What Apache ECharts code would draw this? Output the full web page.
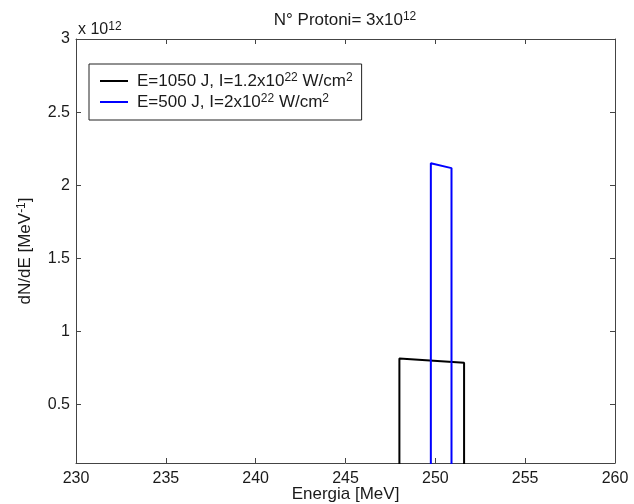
<!DOCTYPE html>
<html>
<head>
<meta charset="utf-8">
<script src="https://cdn.jsdelivr.net/npm/echarts@6/dist/echarts.min.js"></script>
<style>
  html, body { margin: 0; padding: 0; background: #fff; }
  #chart { width: 634px; height: 504px; }
</style>
</head>
<body>
<div id="chart"></div>
<script>
// Proton spectra (dN/dE in units of 1e12 per MeV) vs energy in MeV
const energyHigh = [248.0, 248.0, 251.6, 251.6];
const countsHigh = [0, 0.814, 0.785, 0];
const energyLow = [249.75, 249.75, 250.9, 250.9];
const countsLow = [0, 2.15, 2.117, 0];

const xTicks = [230, 235, 240, 245, 250, 255, 260];
const yTicks = [0.5, 1, 1.5, 2, 2.5, 3];

const seriesNames = ['E=1050 J, I=1.2x10^22 W/cm^2', 'E=500 J, I=2x10^22 W/cm^2'];
const legendRich = {
  'E=1050 J, I=1.2x10^22 W/cm^2': 'E=1050 J, I=1.2x10{sup|22} W/cm{sup|2}',
  'E=500 J, I=2x10^22 W/cm^2': 'E=500 J, I=2x10{sup|22} W/cm{sup|2}'
};

const font = 'Liberation Sans, Arial, Helvetica, sans-serif';
const fs = 16;
const fsText = 17;
const textColor = '#1a1a1a';
const frameColor = '#444';

const pairs = (xs, ys) => xs.map((x, i) => [x, ys[i]]);

const chart = echarts.init(document.getElementById('chart'), null, { renderer: 'canvas' });

const supStyle = { fontSize: 12, verticalAlign: 'top', lineHeight: 18, fontFamily: font, color: textColor };

const xAxisBase = {
  type: 'value', min: 230, max: 260, interval: 5,
  axisLine: { show: true, lineStyle: { color: frameColor, width: 1 } },
  axisTick: { show: true, inside: true, length: 5, lineStyle: { color: frameColor } },
  splitLine: { show: false }
};
const yAxisBase = {
  type: 'value', min: 0.1, max: 3,
  axisLine: { show: true, lineStyle: { color: frameColor, width: 1 } },
  axisTick: { show: true, inside: true, length: 5, customValues: yTicks, lineStyle: { color: frameColor } },
  splitLine: { show: false }
};

chart.setOption({
  animation: false,
  backgroundColor: '#fff',
  title: {
    text: 'N° Protoni= 3x10{sup|12}',
    left: 345, top: 11, padding: 0, textAlign: 'center',
    textStyle: {
      fontFamily: font, fontSize: fsText, fontWeight: 'normal', color: textColor, lineHeight: 18,
      rich: { sup: supStyle }
    }
  },
  grid: { left: 76, right: 19, top: 39, bottom: 41, containLabel: false, outerBoundsMode: 'none' },
  legend: {
    data: seriesNames,
    orient: 'vertical',
    left: 89, top: 64,
    padding: [8, 9, 9, 11],
    itemGap: 3,
    icon: 'rect',
    itemWidth: 28, itemHeight: 2,
    borderColor: '#222', borderWidth: 1,
    backgroundColor: '#fff',
    formatter: name => legendRich[name],
    textStyle: {
      fontFamily: font, fontSize: fsText, color: textColor, lineHeight: 18,
      padding: [0, 0, 0, 4],
      rich: { sup: supStyle }
    }
  },
  xAxis: [
    Object.assign({}, xAxisBase, {
      position: 'bottom',
      axisLabel: { show: true, color: textColor, fontFamily: font, fontSize: fs, margin: 8 },
      name: 'Energia [MeV]', nameLocation: 'middle', nameGap: 23, nameMoveOverlap: false,
      nameTextStyle: { fontFamily: font, fontSize: fsText, color: textColor }
    }),
    Object.assign({}, xAxisBase, { position: 'top', axisLabel: { show: false } })
  ],
  yAxis: [
    Object.assign({}, yAxisBase, {
      position: 'left',
      axisLabel: {
        show: true, customValues: yTicks, color: textColor, fontFamily: font, fontSize: fs, margin: 6,
        formatter: v => String(+v.toFixed(2))
      },
      name: 'dN/dE [MeV{sup|-1}]', nameLocation: 'middle', nameGap: 42, nameMoveOverlap: false,
      nameTextStyle: { fontFamily: font, fontSize: fsText, color: textColor, lineHeight: 18, rich: { sup: supStyle } }
    }),
    Object.assign({}, yAxisBase, { position: 'right', axisLabel: { show: false } })
  ],
  graphic: [{
    type: 'text', left: 78, top: 21,
    style: {
      text: 'x 10{sup|12}', fontFamily: font, fontSize: fs, fill: textColor, lineHeight: 18,
      rich: { sup: supStyle }
    }
  }],
  series: [
    {
      name: seriesNames[0], type: 'line', data: pairs(energyHigh, countsHigh),
      symbol: 'none', clip: true,
      lineStyle: { color: '#000', width: 2 }, itemStyle: { color: '#000' }
    },
    {
      name: seriesNames[1], type: 'line', data: pairs(energyLow, countsLow),
      symbol: 'none', clip: true,
      lineStyle: { color: '#0000ff', width: 2 }, itemStyle: { color: '#0000ff' }
    }
  ]
});
</script>
</body>
</html>
